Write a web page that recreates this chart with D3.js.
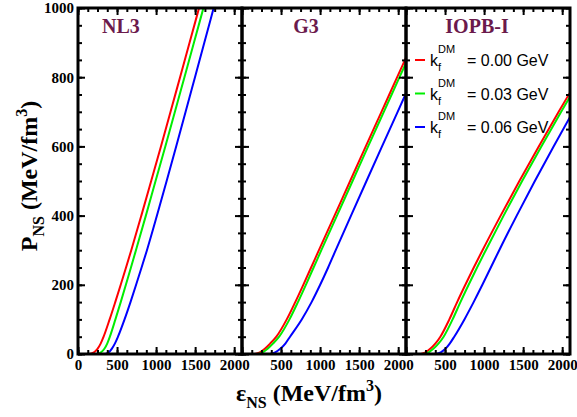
<!DOCTYPE html>
<html>
<head>
<meta charset="utf-8">
<script src="https://cdn.jsdelivr.net/npm/d3@7"></script>
<style>
  body { margin: 0; background: #fff; }
  .tick text { font-family: "Liberation Serif", "Times New Roman", serif; font-weight: bold; font-size: 15px; fill: #000; }
  .tick line { stroke: #000; stroke-width: 2px; }
</style>
</head>
<body>
<div id="chart"></div>
<script>
const models = ["NL3", "G3", "IOPB-I"];
const kfValues = ["0.00", "0.03", "0.06"];
const colors = ["#ff0000", "#00ee00", "#0000ff"];

const pressure = [0, 5, 15, 30, 50, 100, 150, 200, 250, 300, 400, 500, 600, 700, 800, 900, 1000, 1100];

const nl3Eps = [
    [150, 205, 250, 290, 328, 405, 477, 547, 615, 682, 811, 937, 1062, 1185, 1307, 1429, 1550, 1671],
    [245, 295, 338, 374, 408, 479, 547, 613, 678, 742, 869, 993, 1118, 1241, 1363, 1485, 1606, 1727],
    [354, 394, 432, 472, 512, 596, 672, 744, 814, 883, 1011, 1135, 1257, 1378, 1498, 1618, 1737, 1856]
];
const g3Eps = [
    [167, 228, 292, 360, 440, 573, 682, 785, 885, 985, 1185, 1385, 1585, 1786, 1987, 2188, 2390, 2592],
    [205, 265, 328, 396, 476, 608, 716, 818, 917, 1016, 1216, 1416, 1615, 1816, 2017, 2218, 2420, 2622],
    [360, 425, 490, 555, 615, 765, 891, 1001, 1103, 1200, 1396, 1594, 1793, 1993, 2193, 2393, 2593, 2793]
];
const iopbEps = [
    [190, 250, 310, 375, 440, 555, 655, 760, 868, 980, 1212, 1452, 1700, 1955, 2217, 2485, 2760, 3040],
    [228, 290, 350, 415, 482, 597, 697, 802, 910, 1022, 1250, 1487, 1733, 1987, 2248, 2515, 2790, 3070],
    [380, 445, 505, 560, 618, 748, 866, 978, 1086, 1194, 1418, 1650, 1890, 2137, 2392, 2655, 2925, 3200]
];
const allEps = [nl3Eps, g3Eps, iopbEps];

const xMajor = [0, 500, 1000, 1500, 2000];
const xMinor = d3.range(0, 2101, 125);
const yMajor = [0, 200, 400, 600, 800, 1000];
const yMinor = d3.range(0, 1001, 50);

const W = 577, H = 417;
const plotLeft = 78, plotTop = 8, plotBottom = 354, panelW = 164;

const svg = d3.select("#chart").append("svg")
    .attr("width", W)
    .attr("height", H);

const y = d3.scaleLinear().domain([0, 1000]).range([plotBottom, plotTop]);

models.forEach((name, i) => {
    const x0 = plotLeft + i * panelW;
    const x = d3.scaleLinear().domain([0, 2100]).range([x0, x0 + panelW]);
    const g = svg.append("g");

    g.append("clipPath").attr("id", `clip${i}`)
        .append("rect")
        .attr("x", x0).attr("y", plotTop)
        .attr("width", panelW).attr("height", plotBottom - plotTop);

    const line = d3.line()
        .x(d => x(d[0]))
        .y(d => y(d[1]))
        .curve(d3.curveMonotoneX);

    allEps[i].forEach((eps, k) => {
        const pts = eps.map((e, j) => [e, pressure[j]]);
        g.append("path")
            .attr("d", line(pts))
            .attr("fill", "none")
            .attr("stroke", colors[k])
            .attr("stroke-width", 2)
            .attr("clip-path", `url(#clip${i})`);
    });

    // ticks point inward on every side
    const labelTicks = i === 0 ? xMajor : xMajor.slice(1);
    g.append("g").attr("transform", `translate(0,${plotBottom})`)
        .call(d3.axisBottom(x).tickValues(xMinor).tickSize(-4).tickFormat(""));
    g.append("g").attr("transform", `translate(0,${plotBottom})`)
        .call(d3.axisBottom(x).tickValues(xMajor).tickSize(-7).tickPadding(5)
            .tickFormat(d => labelTicks.includes(d) ? d : ""));
    g.append("g").attr("transform", `translate(0,${plotTop})`)
        .call(d3.axisTop(x).tickValues(xMinor).tickSize(-4).tickFormat(""));
    g.append("g").attr("transform", `translate(0,${plotTop})`)
        .call(d3.axisTop(x).tickValues(xMajor).tickSize(-7).tickFormat(""));
    g.append("g").attr("transform", `translate(${x0},0)`)
        .call(d3.axisLeft(y).tickValues(yMinor).tickSize(-4).tickFormat(""));
    g.append("g").attr("transform", `translate(${x0},0)`)
        .call(d3.axisLeft(y).tickValues(yMajor).tickSize(-7).tickPadding(4)
            .tickFormat(d => i === 0 ? d : ""));
    g.append("g").attr("transform", `translate(${x0 + panelW},0)`)
        .call(d3.axisRight(y).tickValues(yMinor).tickSize(-4).tickFormat(""));
    g.append("g").attr("transform", `translate(${x0 + panelW},0)`)
        .call(d3.axisRight(y).tickValues(yMajor).tickSize(-7).tickFormat(""));

    g.selectAll(".domain").remove();

    g.append("rect")
        .attr("x", x0).attr("y", plotTop)
        .attr("width", panelW).attr("height", plotBottom - plotTop)
        .attr("fill", "none")
        .attr("stroke", "#000")
        .attr("stroke-width", 3);

    const titleX = [102, 306, 477];
    g.append("text")
        .attr("x", titleX[i])
        .attr("y", 33)
        .attr("text-anchor", i === 0 ? "start" : "middle")
        .style("font-family", "Liberation Serif, serif")
        .style("font-weight", "bold")
        .style("font-size", "20px")
        .style("fill", "#6b1a4c")
        .text(name);
});

// legend inside the IOPB-I panel
const legend = svg.append("g");
kfValues.forEach((kf, k) => {
    const ly = 60 + k * 33.5;
    legend.append("line")
        .attr("x1", 415).attr("x2", 425)
        .attr("y1", ly).attr("y2", ly)
        .attr("stroke", colors[k]).attr("stroke-width", 2);
    const t = legend.append("text")
        .attr("x", 430).attr("y", ly + 6)
        .style("font-family", "Liberation Sans, Arial, sans-serif")
        .style("font-size", "16px")
        .style("fill", "#000");
    t.append("tspan").text("k");
    t.append("tspan").attr("dy", 5).style("font-size", "11px").text("f");
    t.append("tspan").attr("dx", -3).attr("dy", -18).style("font-size", "11px").text("DM");
    t.append("tspan").attr("x", 467).attr("dy", 13).text(`= ${kf} GeV`);
});

// axis titles
const labelFont = "Liberation Serif, Times New Roman, serif";
const xt = svg.append("text")
    .attr("x", 309).attr("y", 401)
    .attr("text-anchor", "middle")
    .style("font-family", labelFont)
    .style("font-weight", "bold")
    .style("font-size", "24px");
xt.append("tspan").text("ε");
xt.append("tspan").attr("dy", 7).style("font-size", "16px").text("NS");
xt.append("tspan").attr("dy", -7).text(" (MeV/fm");
xt.append("tspan").attr("dy", -10).style("font-size", "16px").text("3");
xt.append("tspan").attr("dy", 10).text(")");

const yt = svg.append("text")
    .attr("transform", "translate(37,176) rotate(-90)")
    .attr("text-anchor", "middle")
    .style("font-family", labelFont)
    .style("font-weight", "bold")
    .style("font-size", "24px");
yt.append("tspan").text("P");
yt.append("tspan").attr("dy", 7).style("font-size", "16px").text("NS");
yt.append("tspan").attr("dy", -7).text(" (MeV/fm");
yt.append("tspan").attr("dy", -10).style("font-size", "16px").text("3");
yt.append("tspan").attr("dy", 10).text(")");
</script>
</body>
</html>
